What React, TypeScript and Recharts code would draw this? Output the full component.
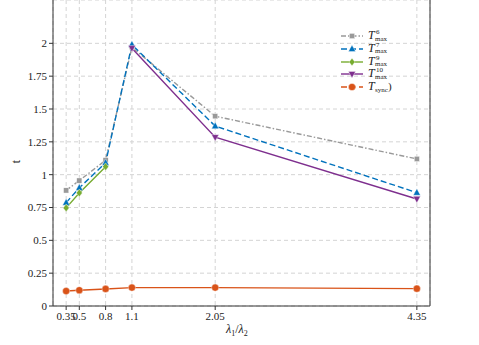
import { CartesianGrid, Line, LineChart, XAxis, YAxis } from "recharts";

const ratios = [0.35, 0.5, 0.8, 1.1, 2.05, 4.35];
const tMax6 = [0.88, 0.955, 1.11, 1.97, 1.445, 1.12];
const tMax7 = [0.787, 0.9, 1.09, 1.99, 1.37, 0.863];
const tMax9 = [0.747, 0.861, 1.061, null, null, null];
const tMax10 = [null, null, null, 1.963, 1.285, 0.815];
const tSync = [0.114, 0.12, 0.13, 0.14, 0.14, 0.132];
const yTicks = [0, 0.25, 0.5, 0.75, 1, 1.25, 1.5, 1.75, 2];

const data = ratios.map((x, i) => ({
  x,
  t6: tMax6[i],
  t7: tMax7[i],
  t9: tMax9[i],
  t10: tMax10[i],
  sync: tSync[i],
}));

const FONT = "'Liberation Serif', 'DejaVu Serif', serif";
const tickStyle = { fill: "#222", fontSize: 11, fontFamily: FONT, style: { fontFamily: FONT } };

type Shape = "square" | "up" | "diamond" | "down" | "circle";

function marker(shape: Shape, cx: number, cy: number, color: string, key?: string) {
  const common = { fill: color, stroke: "#fff", strokeWidth: 0.4 };
  if (shape === "square") return <rect key={key} x={cx - 2.6} y={cy - 2.6} width={5.2} height={5.2} {...common} />;
  if (shape === "up")
    return <polygon key={key} points={`${cx},${cy - 4} ${cx - 3.6},${cy + 2.6} ${cx + 3.6},${cy + 2.6}`} {...common} />;
  if (shape === "down")
    return <polygon key={key} points={`${cx},${cy + 4} ${cx - 3.6},${cy - 2.6} ${cx + 3.6},${cy - 2.6}`} {...common} />;
  if (shape === "diamond")
    return <polygon key={key} points={`${cx},${cy - 3.8} ${cx + 3},${cy} ${cx},${cy + 3.8} ${cx - 3},${cy}`} {...common} />;
  return <circle key={key} cx={cx} cy={cy} r={3.6} {...common} />;
}

const makeDot = (shape: Shape, color: string) => (props: any) => {
  const { cx, cy, index, value } = props;
  const key = `${shape}-${index}`;
  if (value == null || cx == null || cy == null) return <g key={key} />;
  return marker(shape, cx, cy, color, key);
};

const series = [
  { key: "t6", color: "#999999", dash: "5 2 1.5 2", shape: "square" as Shape, sup: "6", sub: "max" },
  { key: "t7", color: "#0072BD", dash: "6 3", shape: "up" as Shape, sup: "7", sub: "max" },
  { key: "t9", color: "#77AC30", dash: undefined, shape: "diamond" as Shape, sup: "9", sub: "max" },
  { key: "t10", color: "#7E2F8E", dash: undefined, shape: "down" as Shape, sup: "10", sub: "max" },
  { key: "sync", color: "#D95319", dash: undefined, shape: "circle" as Shape, sup: "", sub: "sync" },
];

function LegendBox() {
  return (
    <div style={{ position: "absolute", left: 339, top: 29, fontFamily: FONT, color: "#222" }}>
      {series.map((s) => (
        <div key={s.key} style={{ position: "relative", height: 12.8, width: 80 }}>
          <svg width={26} height={12} style={{ position: "absolute", left: 0, top: 1 }}>
            <line x1={2} y1={6} x2={24} y2={6} stroke={s.color} strokeWidth={1.4} strokeDasharray={s.key === "sync" ? "6 3" : s.dash} />
            {marker(s.shape, 13, 6, s.color)}
          </svg>
          <span style={{ position: "absolute", left: 29, top: 0, fontStyle: "italic", fontSize: 12, lineHeight: "12px" }}>T</span>
          {s.sup && (
            <span style={{ position: "absolute", left: 37, top: 0, fontSize: 7, lineHeight: "6px" }}>{s.sup}</span>
          )}
          <span style={{ position: "absolute", left: 36, top: 6.5, fontSize: 7, lineHeight: "6px", whiteSpace: "nowrap" }}>
            {s.sub}
          </span>
          {s.key === "sync" && (
            <span style={{ position: "absolute", left: 49, top: 1, fontSize: 11, lineHeight: "11px" }}>)</span>
          )}
        </div>
      ))}
    </div>
  );
}

export default function App() {
  return (
    <div style={{ position: "absolute", left: 0, top: 0, width: 479, height: 345, background: "#fff", fontFamily: FONT }}>
      <LineChart width={479} height={345} data={data} margin={{ top: 0, right: 49, bottom: 0, left: 0 }} style={{ fontFamily: FONT }}>
        <CartesianGrid stroke="#d4d4d4" strokeDasharray="4 3" />
        <XAxis
          dataKey="x"
          type="number"
          domain={[0.2, 4.5]}
          ticks={ratios}
          interval={0}
          allowDataOverflow
          height={39}
          tickSize={4}
          tickMargin={2}
          stroke="#333"
          tick={tickStyle}
        />
        <YAxis
          type="number"
          domain={[0, 2.33]}
          ticks={yTicks}
          interval={0}
          allowDataOverflow
          width={53}
          tickSize={4}
          tickMargin={2}
          stroke="#333"
          tick={tickStyle}
        />
        <YAxis
          yAxisId="r"
          orientation="right"
          type="number"
          domain={[0, 2.33]}
          ticks={yTicks}
          interval={0}
          width={49}
          mirror
          tickSize={4}
          stroke="#333"
          tickFormatter={() => ""}
        />
        {series.map((s) => (
          <Line
            key={s.key}
            dataKey={s.key}
            stroke={s.color}
            strokeWidth={1.4}
            strokeDasharray={s.dash}
            dot={makeDot(s.shape, s.color)}
            activeDot={false}
            isAnimationActive={false}
          />
        ))}
      </LineChart>
      <LegendBox />
      <div
        style={{
          position: "absolute",
          left: 15,
          top: 154,
          transform: "rotate(-90deg)",
          fontSize: 12,
          color: "#222",
        }}
      >
        t
      </div>
      <div style={{ position: "absolute", left: 226, top: 322, fontSize: 12, color: "#222" }}>
        <i>λ</i>
        <sub style={{ fontSize: 8 }}>1</sub>/<i>λ</i>
        <sub style={{ fontSize: 8 }}>2</sub>
      </div>
    </div>
  );
}
